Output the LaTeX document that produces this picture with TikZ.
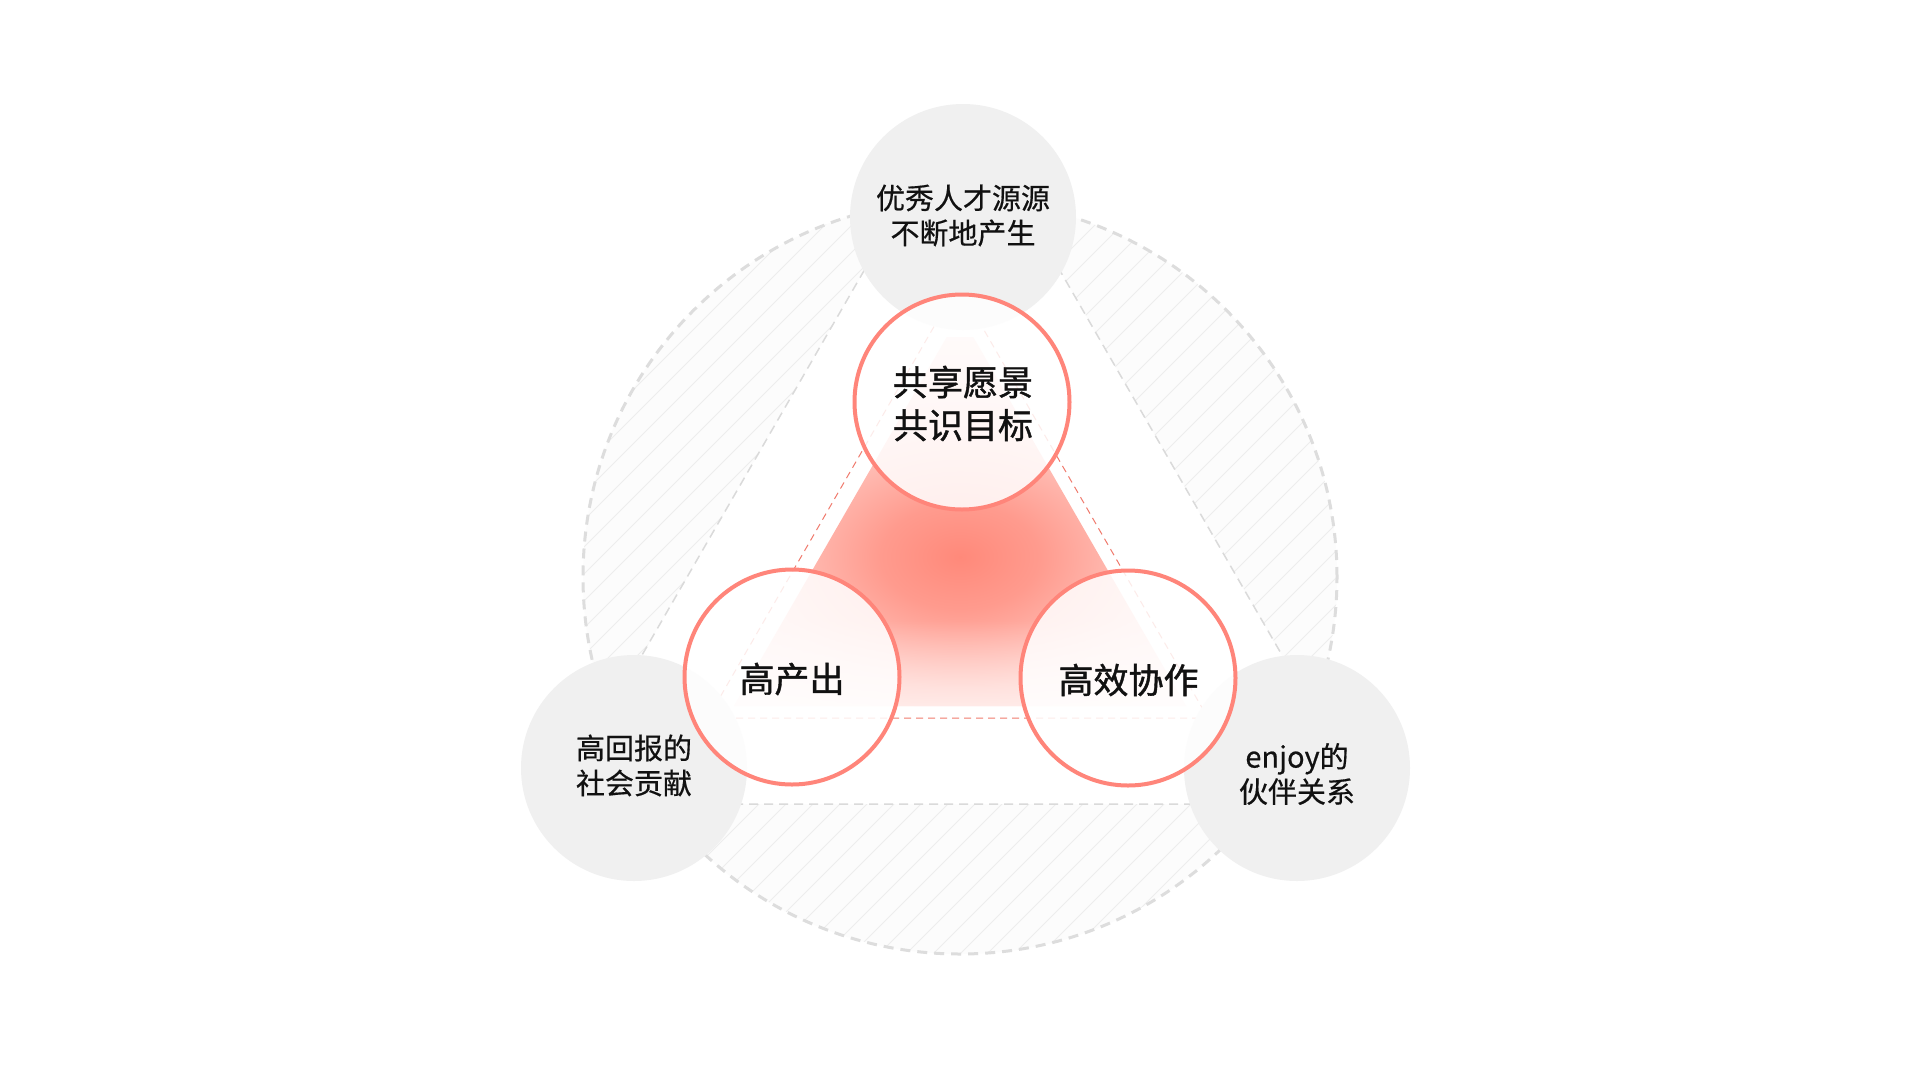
\documentclass[tikz,border=0pt]{standalone}
\usepackage{fontspec}
\newfontfamily\cjk[FakeBold=0.5]{Noto Sans CJK SC}
\newfontfamily\cjkb[FakeBold=1.2]{Noto Sans CJK SC}
\usetikzlibrary{fadings}
\definecolor{salmon}{HTML}{FF857A}
\definecolor{reddashc}{HTML}{F07A6D}
\definecolor{glowc}{HTML}{FF897A}
\definecolor{greyfill}{HTML}{F0F0F0}
\definecolor{bigdash}{HTML}{DDDDDD}
\definecolor{tridash}{HTML}{DADADA}
\definecolor{hatchc}{HTML}{EDEDED}
\definecolor{hatchbg}{HTML}{FCFCFC}
\definecolor{txt}{HTML}{111111}
\colorlet{glowa}{glowc!85!white}
\colorlet{glowb}{glowc!45!white}
\colorlet{glowd}{glowc!14!white}
\pgfdeclareradialshading{glow}{\pgfpoint{0bp}{0bp}}{color(0bp)=(glowc); color(6bp)=(glowa); color(15bp)=(glowb); color(30bp)=(glowd); color(50bp)=(white)}
\tikzfading[name=fadedown, top color=transparent!100, bottom color=transparent!40]
\tikzset{
  bigcirc/.style={circle, draw=bigdash, line width=3pt, dash pattern=on 10pt off 7pt, minimum size=754pt, inner sep=0pt},
  greydash/.style={draw=tridash, line width=1.5pt, dash pattern=on 9pt off 6pt},
  reddash/.style={draw=reddashc, line width=1pt, dash pattern=on 7pt off 5pt},
  hatchline/.style={draw=hatchc, line width=0.9pt},
  greyc/.style={circle, fill=greyfill, minimum size=226pt, inner sep=0pt},
  redc/.style={circle, draw=salmon, line width=4pt, fill=white, fill opacity=0.85, minimum size=215pt, inner sep=0pt},
  glabel/.style={align=center, text=txt, font=\cjk\fontsize{29}{35}\selectfont, inner sep=0pt},
  rlabel/.style={align=center, text=txt, font=\cjkb\fontsize{35}{43}\selectfont, inner sep=0pt}
}
\begin{document}
\begin{tikzpicture}[x=1pt,y=-1pt]
\useasboundingbox (0,0) rectangle (1920,1080);
\fill[white] (0,0) rectangle (1920,1080);
% hatched caps
\begin{scope}
  \clip (960,577) circle (377);
  \begin{scope}[even odd rule]
    \clip (0,0) rectangle (1920,1080) (962,101) -- (556,804) -- (1368,804) -- cycle;
    \fill[hatchbg] (0,0) rectangle (1920,1080);
    \foreach \c in {780,807,...,2320} \draw[hatchline] (\c-100,100) -- (\c-1000,1000);
  \end{scope}
\end{scope}
\node[bigcirc] (outer) at (960,577) {};
% grey dashed triangle
\coordinate (ga) at (962,101);
\coordinate (gb) at (556,804);
\coordinate (gc) at (1368,804);
\begin{scope}
  \clip (960,577) circle (377);
  \draw[greydash] (ga) -- (gb) -- (gc) -- cycle;
\end{scope}
% gradient triangle
\begin{scope}
  \clip (960,314) -- (734,706) -- (1186,706) -- cycle;
  \shade[shading=glow] (630,337) rectangle (1290,777);
  \fill[white, path fading=fadedown] (700,620) rectangle (1220,710);
\end{scope}
% red dashed triangle
\coordinate (ra) at (958,285);
\coordinate (rb) at (708,718);
\coordinate (rc) at (1208,718);
\draw[reddash] (ra) -- (rb) -- (rc) -- cycle;
% grey circles
\node[greyc] (gt) at (963,217) {};
\node[greyc] (gl) at (634,768) {};
\node[greyc] (gr) at (1297,768) {};
\node[glabel] (gtl) at (963,215.5) {优秀人才源源\\不断地产生};
\node[glabel] (gll) at (634,765.5) {高回报的\\社会贡献};
\node[glabel] (grl) at (1297,774) {enjoy的\\伙伴关系};
% red circles
\node[redc] (rt) at (962,402) {};
\node[redc] (rl) at (792,677) {};
\node[redc] (rr) at (1128,678) {};
\node[rlabel] (rtl) at (963,403.5) {共享愿景\\共识目标};
\node[rlabel] (rll) at (792,679) {高产出};
\node[rlabel] (rrl) at (1128.5,680) {高效协作};
\end{tikzpicture}
\end{document}
